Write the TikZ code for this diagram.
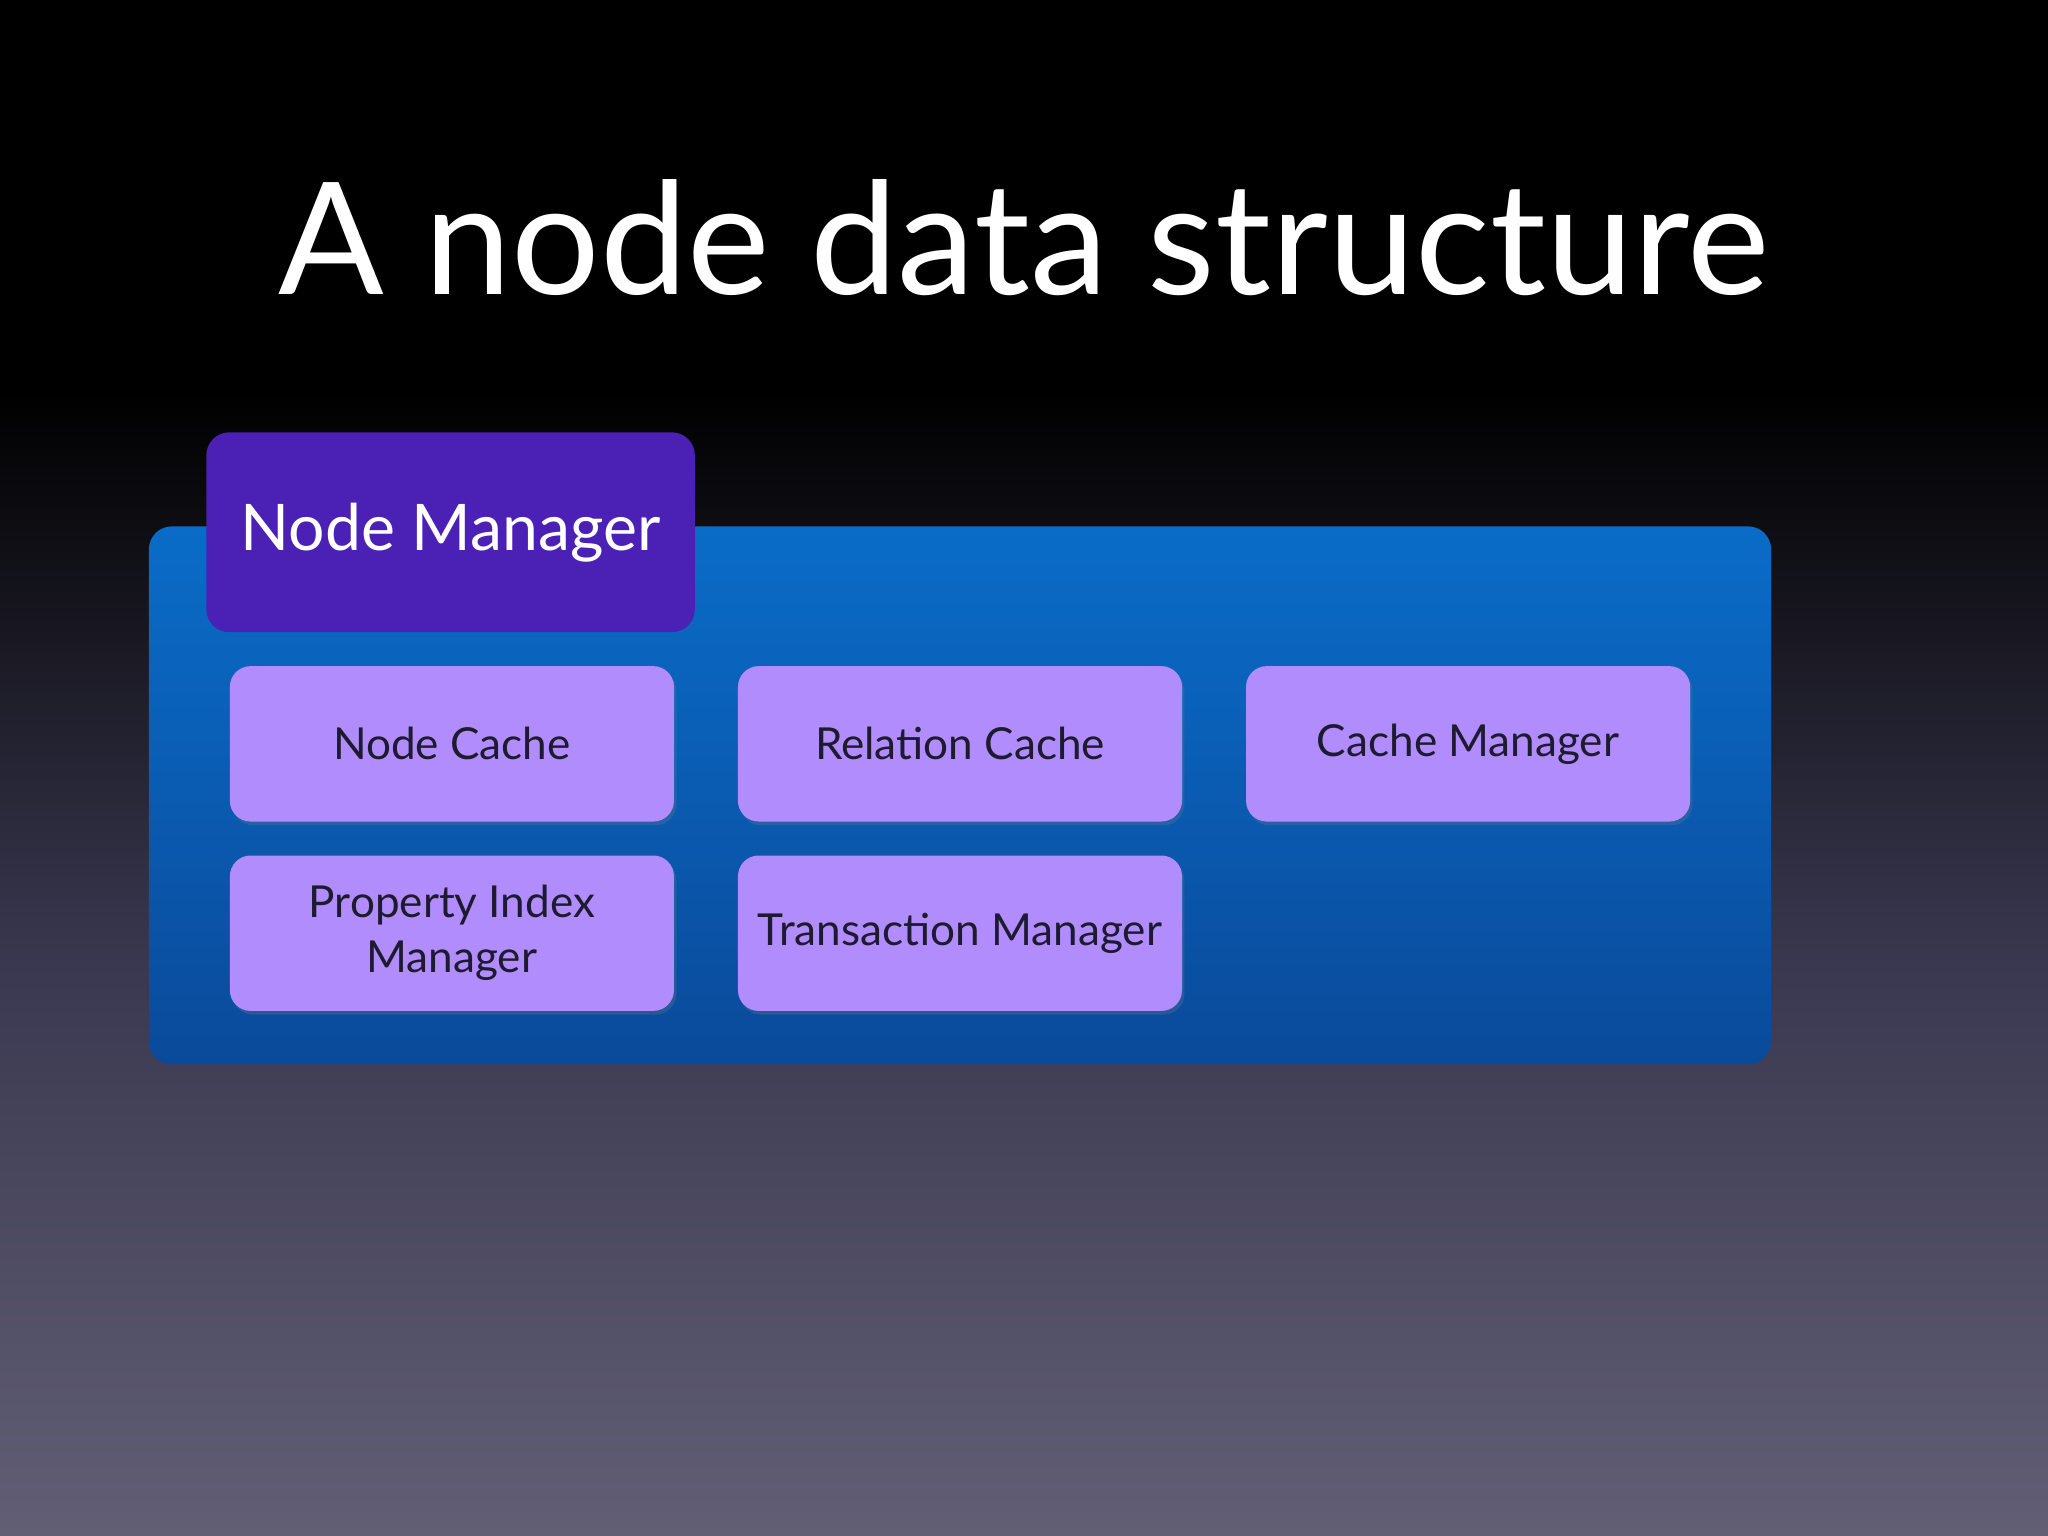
\documentclass[tikz,border=0pt]{standalone}
\usepackage{fontspec}
\setmainfont{Lato}
\usetikzlibrary{shadows}
\definecolor{bluetop}{HTML}{0A6CC8}
\definecolor{bluebot}{HTML}{0A4A9A}
\definecolor{nmpurple}{HTML}{4B20B4}
\definecolor{lilac}{HTML}{B18CFC}
\definecolor{bgmid}{HTML}{3A3850}
\definecolor{bgbot}{HTML}{625F75}
\definecolor{txt}{HTML}{1E1A30}
\begin{document}
\begin{tikzpicture}[x=0.01cm,y=-0.01cm,
  sub/.style={draw=none,fill=lilac,rounded corners=4.5pt,inner sep=1pt,minimum width=340*0.01cm,minimum height=119*0.01cm,align=center,text=txt,font=\fontsize{9.6}{12}\selectfont,drop shadow={opacity=0.25,shadow xshift=0.5pt,shadow yshift=-0.8pt}},
]
\fill[black] (0,0) rectangle (1568,300);
\shade[top color=black,bottom color=bgbot,middle color=bgmid] (0,300) rectangle (1568,1176);
\useasboundingbox (0,0) rectangle (1568,1176);
\node[text=white,font=\fontsize{34}{40}\selectfont] (title) at (784,182) {A node data structure};
\shade[top color=bluetop,bottom color=bluebot,rounded corners=5pt] (114,403) rectangle (1356,815);
\node[fill=nmpurple,rounded corners=5pt,minimum width=374*0.01cm,minimum height=153*0.01cm,text=white,font=\fontsize{14}{18}\selectfont] (nm) at (345,407.5) {Node Manager};
\node[sub] (nc) at (346,569.5) {Node Cache};
\node[sub] (rc) at (735,569.5) {Relation Cache};
\node[sub] (cm) at (1124,569.5) {Cache Manager};
\node[sub] (pim) at (346,714.5) {Property Index\\Manager};
\node[sub] (tm) at (735,714.5) {Transaction Manager};
\end{tikzpicture}
\end{document}
